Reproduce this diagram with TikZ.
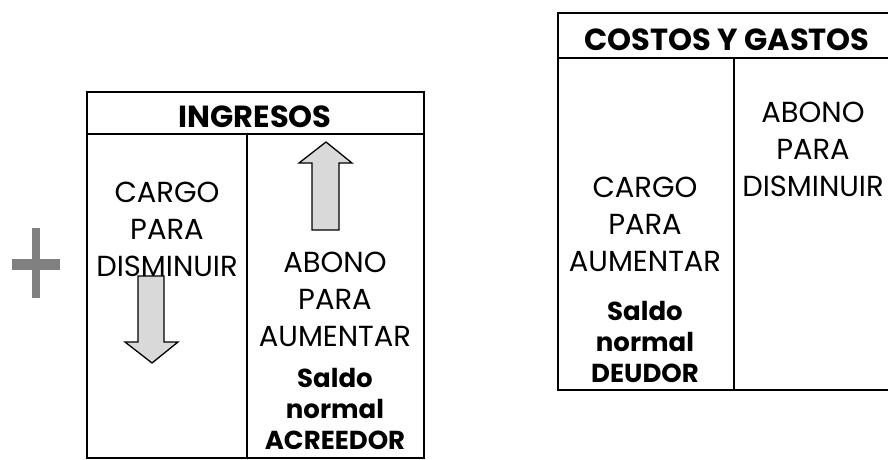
\documentclass[tikz,border=0pt]{standalone}
\usepackage{fontspec}
\setmainfont{Poppins}
\tikzset{
  frame/.style={line width=2.6pt, line cap=rect},
  label/.style={align=center, inner sep=0pt, font=\fontsize{29}{37}\selectfont},
  note/.style={align=center, inner sep=0pt, font=\fontsize{26}{31}\selectfont\bfseries},
  head/.style={inner sep=0pt, font=\fontsize{30.5}{34}\selectfont\bfseries},
  bigarrow/.style={fill=black!15, draw=black, line width=1.3pt, line join=miter},
  plus/.style={fill=black!50, draw=none}
}
\begin{document}
\begin{tikzpicture}[x=1pt,y=-1pt]
\useasboundingbox (0,0) rectangle (888,460);
% plus sign
\fill[plus] (12,259) rectangle (60,270);
\fill[plus] (32,228) rectangle (40,298);
% INGRESOS T-account
\draw[frame] (87,92) rectangle (424,458);
\draw[frame] (87,134) -- (424,134);
\draw[frame] (247,134) -- (247,458);
\node[head] (ing) at (255,117) {INGRESOS};
\node[label] (ingL) at (167,229) {CARGO\\PARA\\DISMINUIR};
\node[label] (ingR) at (335,299) {ABONO\\PARA\\AUMENTAR};
\node[note] (ingS) at (335,409) {Saldo\\normal\\ACREEDOR};
\draw[bigarrow] (312,230) -- (312,163) -- (299,163) -- (326,142) -- (352,163) -- (339,163) -- (339,230) -- cycle;
\draw[bigarrow] (138,276) -- (164,276) -- (164,342) -- (178,342) -- (152,363) -- (125,342) -- (138,342) -- cycle;
% COSTOS Y GASTOS T-account
\draw[frame] (558,13) rectangle (896,390);
\draw[frame] (558,58) -- (896,58);
\draw[frame] (734,58) -- (734,390);
\node[head] (cyg) at (727,40) {COSTOS Y GASTOS};
\node[label] (cygL) at (645,224) {CARGO\\PARA\\AUMENTAR};
\node[note] (cygS) at (645,342) {Saldo\\normal\\DEUDOR};
\node[label] (cygR) at (813,149) {ABONO\\PARA\\DISMINUIR};
\end{tikzpicture}
\end{document}
